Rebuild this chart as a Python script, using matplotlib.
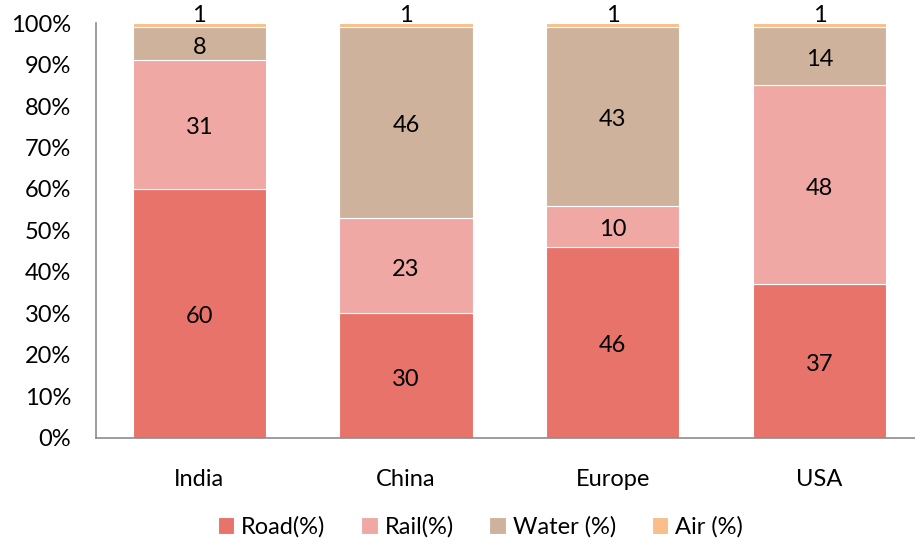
import matplotlib.pyplot as plt
import numpy as np

# data
regions = ['India', 'China', 'Europe', 'USA']
road = [60, 30, 46, 37]
rail = [31, 23, 10, 48]
water = [8, 46, 43, 14]
air = [1, 1, 1, 1]

series_names = ['Road(%)', 'Rail(%)', 'Water (%)', 'Air (%)']
colors = ['#E8736A', '#F0A8A5', '#CFB29B', '#F9BE8A']

plt.rcParams['font.family'] = ['Lato', 'DejaVu Sans']
FS = 17

fig = plt.figure(figsize=(9.15, 5.44), dpi=100)
ax = fig.add_axes([96 / 915, 0.1949, 1 - 96 / 915, 0.7628])

x = np.arange(len(regions))
bottom = np.zeros(len(regions))
for name, vals, col in zip(series_names, [road, rail, water, air], colors):
    vals = np.array(vals, dtype=float)
    ax.bar(x, vals, 0.645, bottom=bottom, color=col, label=name,
           edgecolor='white', linewidth=0.8)
    for xi, b, v in zip(x, bottom, vals):
        # small top segment label sits just above its bar like Excel
        yy = b + v / 2 - 0.8 if v > 2 else b + v + 1.8
        ax.text(xi, yy, f'{int(v)}', ha='center', va='center', fontsize=FS)
    bottom += vals

ax.set_xlim(-0.5, 3.462)
ax.set_ylim(0, 100)
ax.set_yticks(np.arange(0, 101, 10))
ax.set_yticklabels([f'{t}%' for t in range(0, 101, 10)], fontsize=FS)
ax.set_xticks(x)
ax.set_xticklabels(regions, fontsize=FS)
ax.tick_params(axis='y', length=0, pad=18)
ax.tick_params(axis='x', length=0, pad=22)

for s in ['top', 'right']:
    ax.spines[s].set_visible(False)
for s in ['left', 'bottom']:
    ax.spines[s].set_color('#8c8c8c')
    ax.spines[s].set_linewidth(1.2)

fig.legend(loc='lower center', bbox_to_anchor=(0.525, -0.028), ncol=4, frameon=False,
           fontsize=FS, handlelength=0.7, handleheight=0.7, handletextpad=0.3,
           columnspacing=1.5)

plt.savefig('out.png', dpi=100)
plt.close()
